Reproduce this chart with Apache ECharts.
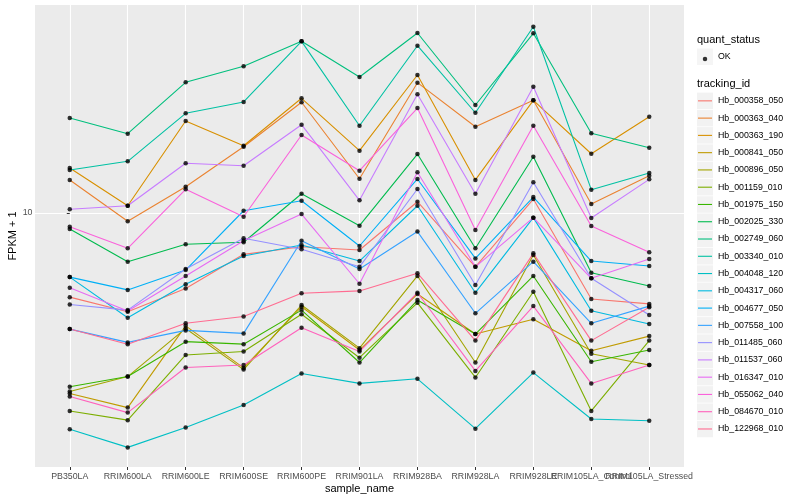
<!DOCTYPE html>
<html><head><meta charset="utf-8">
<script src="https://cdn.jsdelivr.net/npm/echarts@6/dist/echarts.min.js"></script>
<style>html,body{margin:0;padding:0;background:#fff}#c{width:800px;height:500px}</style>
</head><body><div id="c"></div>
<script>
const categories = ['PB350LA','RRIM600LA','RRIM600LE','RRIM600SE','RRIM600PE','RRIM901LA','RRIM928BA','RRIM928LA','RRIM928LE','RRIM105LA_Control','RRIM105LA_Stressed'];
const yTicks = [10];

// FPKM + 1 per sample, one array per tracking_id
const Hb_000358_050 = [5.75, 5.22, 6.09, 7.62, 8.01, 7.84, 10.77, 7.02, 10.96, 5.68, 5.50];
const Hb_000363_040 = [12.43, 9.47, 11.89, 15.47, 20.72, 12.53, 23.57, 17.64, 20.99, 10.61, 12.78];
const Hb_000363_190 = [13.45, 10.49, 18.32, 15.57, 21.27, 15.07, 24.79, 12.43, 20.99, 14.77, 18.84];
const Hb_000841_050 = [3.05, 2.78, 4.76, 3.61, 5.40, 4.06, 5.87, 4.51, 4.97, 4.04, 4.45];
const Hb_000896_050 = [3.09, 3.41, 4.68, 3.57, 5.46, 4.11, 6.61, 3.74, 7.59, 3.96, 3.68];
const Hb_001159_010 = [2.72, 2.56, 3.93, 4.02, 5.14, 3.86, 5.54, 3.39, 5.96, 2.72, 4.32];
const Hb_001975_150 = [3.19, 3.41, 4.29, 4.22, 5.28, 3.74, 5.64, 4.51, 6.61, 3.76, 4.06];
const Hb_002025_330 = [9.00, 7.26, 8.14, 8.25, 11.35, 9.20, 14.74, 7.93, 14.48, 6.75, 6.19];
const Hb_002749_060 = [18.68, 16.85, 23.63, 26.25, 30.94, 24.47, 32.68, 20.35, 32.62, 16.89, 15.37];
const Hb_003340_010 = [13.27, 14.05, 19.27, 20.76, 30.94, 17.76, 30.06, 19.34, 34.06, 11.66, 13.01];
const Hb_004048_120 = [2.41, 2.14, 2.44, 2.83, 3.48, 3.26, 3.36, 2.42, 3.50, 2.58, 2.55];
const Hb_004317_060 = [6.56, 5.02, 6.26, 7.54, 8.10, 7.29, 10.49, 5.92, 9.70, 5.26, 4.82];
const Hb_004677_050 = [6.56, 6.03, 6.87, 10.15, 10.84, 8.05, 12.51, 7.42, 11.11, 7.29, 7.06];
const Hb_007558_100 = [4.66, 4.27, 4.62, 4.53, 8.33, 6.92, 8.85, 5.17, 7.26, 4.84, 5.42];
const Hb_011485_060 = [5.48, 5.28, 6.92, 8.47, 7.88, 7.02, 11.71, 6.23, 12.24, 6.51, 5.11];
const Hb_011537_060 = [10.25, 10.49, 13.87, 13.65, 17.88, 10.87, 21.83, 11.35, 22.95, 9.68, 12.48];
const Hb_016347_010 = [6.12, 5.25, 6.61, 8.33, 9.93, 6.28, 13.07, 7.02, 9.70, 6.51, 7.39];
const Hb_055062_040 = [9.14, 7.93, 11.69, 9.76, 16.71, 13.21, 19.95, 8.94, 17.76, 9.18, 7.72];
const Hb_084670_010 = [2.99, 2.69, 3.62, 3.68, 4.70, 4.02, 5.92, 3.54, 5.42, 3.26, 3.68];
const Hb_122968_010 = [4.66, 4.22, 4.84, 5.06, 5.90, 5.99, 6.73, 4.32, 7.67, 4.32, 5.38];

const trackingIds = ['Hb_000358_050','Hb_000363_040','Hb_000363_190','Hb_000841_050','Hb_000896_050','Hb_001159_010','Hb_001975_150','Hb_002025_330','Hb_002749_060','Hb_003340_010','Hb_004048_120','Hb_004317_060','Hb_004677_050','Hb_007558_100','Hb_011485_060','Hb_011537_060','Hb_016347_010','Hb_055062_040','Hb_084670_010','Hb_122968_010'];
const seriesValues = [Hb_000358_050,Hb_000363_040,Hb_000363_190,Hb_000841_050,Hb_000896_050,Hb_001159_010,Hb_001975_150,Hb_002025_330,Hb_002749_060,Hb_003340_010,Hb_004048_120,Hb_004317_060,Hb_004677_050,Hb_007558_100,Hb_011485_060,Hb_011537_060,Hb_016347_010,Hb_055062_040,Hb_084670_010,Hb_122968_010];
const colors = ['#F8766D','#EA8331','#D89000','#C09B00','#A3A500','#7CAE00','#39B600','#00BB4E','#00BF7D','#00C1A3','#00BFC4','#00BAE0','#00B0F6','#35A2FF','#9590FF','#C77CFF','#E76BF3','#FA62DB','#FF62BC','#FF6C91'];

const FONT = "'Liberation Sans', Arial, sans-serif";
const catIdx = categories.map((c, i) => i);
const evenIdx = catIdx.filter(i => i % 2 === 0);
const oddIdx = catIdx.filter(i => i % 2 === 1);

const lineSeries = trackingIds.map((name, k) => ({
  name, type: 'line', data: seriesValues[k].map((v, i) => [i, v]),
  showSymbol: false, symbol: 'none', silent: true, z: 2,
  itemStyle: {color: colors[k], borderWidth: 0},
  lineStyle: {color: colors[k], width: 1.1}
}));
const pointSeries = {
  name: 'OK', type: 'scatter', z: 3, silent: true,
  symbol: 'circle', symbolSize: 4.5,
  itemStyle: {color: '#000', borderWidth: 0},
  data: seriesValues.flatMap(arr => arr.map((v, i) => [i, v]))
};

const legendText = (color) => ({fontSize: 8.8, color, fontFamily: FONT, lineHeight: 16.5, height: 16.5, verticalAlign: 'middle'});

const makeX = (idx, withName) => ({
  type: 'value', min: -0.6, max: 10.6, position: 'bottom', offset: 0,
  name: withName ? 'sample_name' : '', nameLocation: 'middle', nameGap: 16, nameMoveOverlap: false,
  nameTextStyle: {fontSize: 11, color: '#000', fontFamily: FONT},
  axisLine: {show: false},
  axisTick: {show: true, length: 3, customValues: idx, lineStyle: {color: '#333', width: 1}},
  axisLabel: {customValues: idx, margin: 5, fontSize: 8.8, color: '#4D4D4D', fontFamily: FONT, hideOverlap: false,
    formatter: v => categories[Math.round(v)] || ''},
  splitLine: {show: true, lineStyle: {color: '#fff', width: 1.1}}
});

const chart = echarts.init(document.getElementById('c'), null, {renderer: 'canvas'});
chart.setOption({
  animation: false,
  backgroundColor: '#fff',
  textStyle: {fontFamily: FONT},
  grid: {left: 35, top: 5, width: 649, height: 462, show: true, backgroundColor: '#EBEBEB', borderWidth: 0, containLabel: false, outerBoundsMode: 'none'},
  title: [
    {text: 'quant_status', left: 697, top: 34, padding: 0, textStyle: {fontSize: 11, fontWeight: 'normal', color: '#000', fontFamily: FONT}},
    {text: 'tracking_id', left: 697, top: 78, padding: 0, textStyle: {fontSize: 11, fontWeight: 'normal', color: '#000', fontFamily: FONT}}
  ],
  legend: [
    {data: ['OK'], orient: 'vertical', left: 697, top: 48.5, padding: 0, itemWidth: 16, itemHeight: 16.5, icon: 'rect', selectedMode: false,
     itemStyle: {color: '#F2F2F2', borderWidth: 0}, textStyle: legendText('#000')},
    {data: ['OK'], orient: 'vertical', left: 702.75, top: 54.5, padding: 0, itemWidth: 4.5, itemHeight: 4.5, icon: 'circle', selectedMode: false,
     itemStyle: {color: '#000', borderWidth: 0}, textStyle: {fontSize: 8.8, color: 'rgba(0,0,0,0)', fontFamily: FONT}},
    {data: trackingIds, orient: 'vertical', left: 697, top: 92.6, padding: 0, itemWidth: 16, itemHeight: 16.5, itemGap: 0.77, icon: 'rect', selectedMode: false,
     itemStyle: {color: '#F2F2F2', borderWidth: 0}, textStyle: legendText('#000')},
    {data: trackingIds, orient: 'vertical', left: 698, top: 92.6, padding: 0, itemWidth: 14, itemHeight: 16.5, itemGap: 0.77, icon: 'path://M0,0L14,0L14,1.1L0,1.1Z', symbolKeepAspect: true, selectedMode: false,
     itemStyle: {borderWidth: 0}, textStyle: legendText('rgba(0,0,0,0)')}
  ],
  xAxis: [makeX(evenIdx, true), makeX(oddIdx, false)],
  yAxis: {
    type: 'log', logBase: 10, min: 1.881, max: 39.29,
    name: 'FPKM + 1', nameLocation: 'middle', nameGap: 17, nameRotate: 90, nameMoveOverlap: false,
    nameTextStyle: {fontSize: 11, color: '#000', fontFamily: FONT},
    axisLine: {show: false},
    axisTick: {show: true, length: 3, customValues: yTicks, lineStyle: {color: '#333', width: 1}},
    axisLabel: {customValues: yTicks, margin: 2.5, fontSize: 8.8, color: '#4D4D4D', fontFamily: FONT, hideOverlap: false},
    splitLine: {show: true, lineStyle: {color: '#fff', width: 1.1}}
  },
  series: [...lineSeries, pointSeries]
});
</script></body></html>
